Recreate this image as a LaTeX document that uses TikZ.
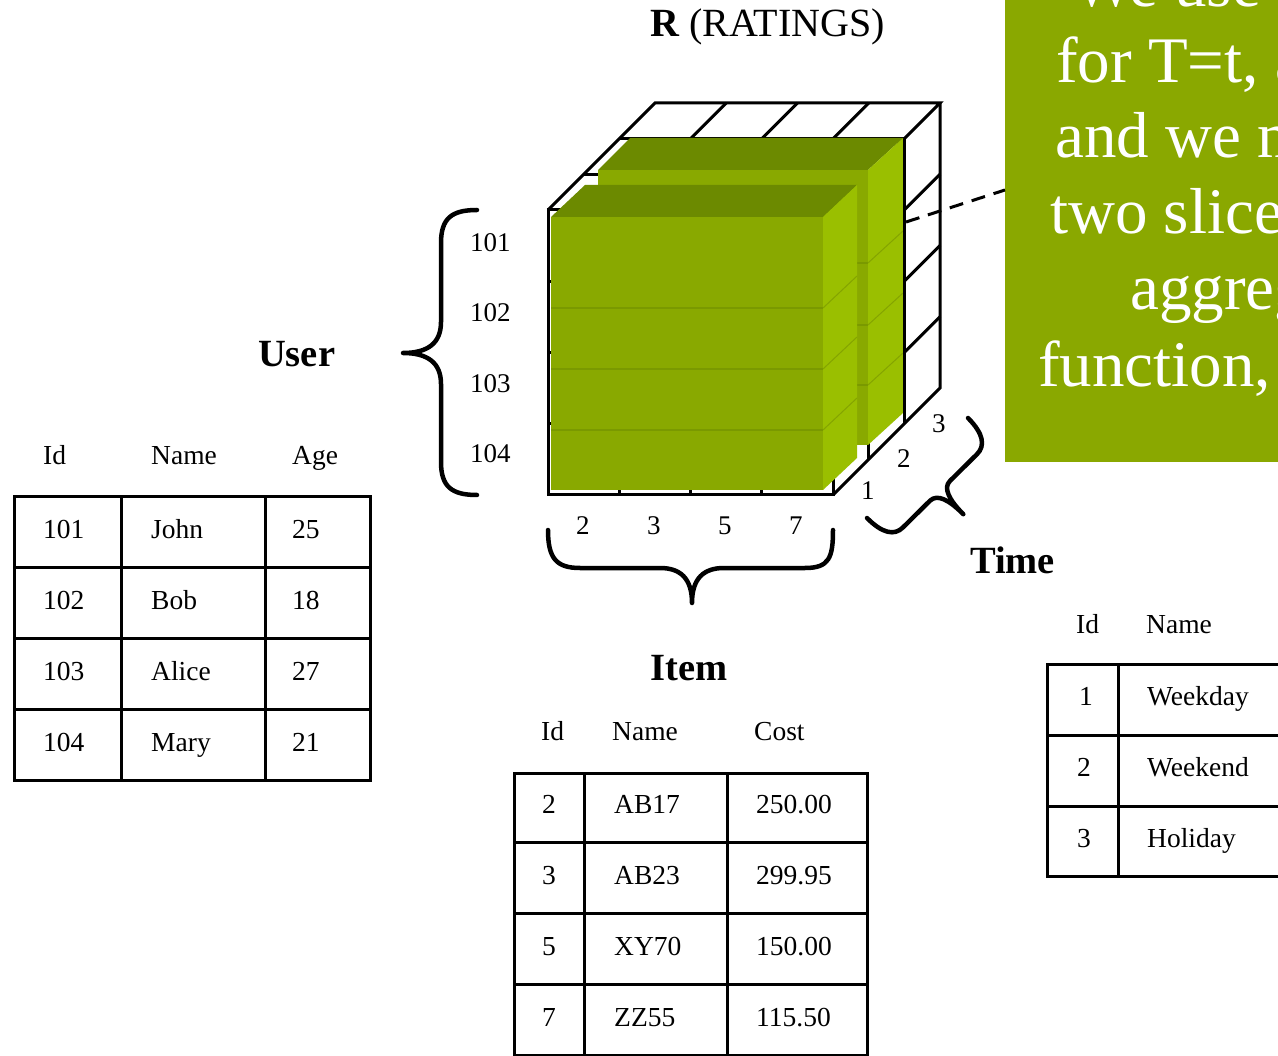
\documentclass[tikz,border=0pt]{standalone}
\usepackage{fontspec}
\setmainfont{Liberation Serif}
\definecolor{boxgreen}{RGB}{138,168,0}
\definecolor{slicefront}{RGB}{137,169,0}
\definecolor{slicetop}{RGB}{108,138,0}
\definecolor{sliceside}{RGB}{154,191,0}
\definecolor{sliceline}{RGB}{122,153,0}
\begin{document}
\begin{tikzpicture}[x=1pt,y=-1pt,
  cell/.style={anchor=base west,inner sep=0pt,font=\fontsize{27.5}{30}\selectfont},
  axlabel/.style={anchor=base west,inner sep=0pt,font=\fontsize{27}{30}\selectfont},
  title/.style={anchor=base west,inner sep=0pt,font=\fontsize{38.5}{42}\selectfont\bfseries},
  gridline/.style={line width=3pt},
  tbl/.style={line width=3pt},
  bracestyle/.style={line width=4.5pt,line cap=round,line join=round},
  callouttext/.style={anchor=base west,inner sep=0pt,text=white,font=\fontsize{65}{76}\selectfont}
]
\useasboundingbox (0,0) rectangle (1278,1056);
\clip (0,0) rectangle (1278,1056);
\fill[white] (0,0) rectangle (1278,1056);

% ---------- cube wireframe ----------
% front face
\draw[gridline] (548,210) rectangle (833,495);
\foreach \x in {619.25,690.5,761.75} \draw[gridline] (\x,210) -- (\x,495);
\foreach \y in {281.25,352.5,423.75} \draw[gridline] (548,\y) -- (833,\y);
% top face
\draw[gridline,line join=miter] (548,210) -- (655,103) -- (940,103) -- (833,210);
\foreach \x in {619.25,690.5,761.75} \draw[gridline] (\x,210) -- ({\x+107},103);
\draw[gridline] (583.67,174.33) -- (868.67,174.33);
\draw[gridline] (619.33,138.67) -- (904.33,138.67);
% right face
\draw[gridline,line join=miter] (833,495) -- (940,388) -- (940,103);
\foreach \y in {281.25,352.5,423.75} \draw[gridline] (833,\y) -- (940,{\y-107});
\draw[gridline] (868.67,174.33) -- (868.67,459.33);

% ---------- slices ----------
% back slice
\fill[slicefront] (598,170) rectangle (868,445);
\fill[slicetop] (598,170) -- (868,170) -- (903,138) -- (630,138) -- cycle;
\fill[sliceside] (868,170) -- (903,138) -- (903,413) -- (868,445) -- cycle;
\foreach \y in {263,325,385} {
  \draw[sliceline,line width=2.5pt] (598,\y) -- (868,\y);
  \draw[sliceline!70!sliceside,line width=1pt] (868,\y) -- (903,{\y-32});
}
% front slice
\fill[slicefront] (551,217) rectangle (823,490);
\fill[slicetop] (551,217) -- (823,217) -- (857,185) -- (585,185) -- cycle;
\fill[sliceside] (823,217) -- (857,185) -- (857,458) -- (823,490) -- cycle;
\foreach \y in {308,369,430} {
  \draw[sliceline,line width=2.5pt] (551,\y) -- (823,\y);
  \draw[sliceline!70!sliceside,line width=1pt] (823,\y) -- (857,{\y-32});
}
% cube edge at depth 2/3
\draw[gridline] (904.33,138.67) -- (904.33,423.67);

% ---------- axis labels ----------
\node[axlabel] (u101) at (470,252) {101};
\node[axlabel] (u102) at (470,322) {102};
\node[axlabel] (u103) at (470,393) {103};
\node[axlabel] (u104) at (470,463) {104};
\node[axlabel] (i2) at (576,535) {2};
\node[axlabel] (i3) at (647,535) {3};
\node[axlabel] (i5) at (718,535) {5};
\node[axlabel] (i7) at (789,535) {7};
\node[axlabel] (t1) at (861,500) {1};
\node[axlabel] (t2) at (897,468) {2};
\node[axlabel] (t3) at (932,433) {3};

% ---------- braces ----------
% User
\draw[bracestyle] (477,210) .. controls (452,210) and (441,218) .. (441,243)
  -- (441,322) .. controls (441,343) and (428,353) .. (403,353)
  .. controls (428,353) and (441,363) .. (441,384)
  -- (441,462) .. controls (441,487) and (452,495) .. (477,495);
% Item
\draw[bracestyle] (548,530) .. controls (548,558) and (556,568) .. (580,568)
  -- (660,568) .. controls (680,568) and (692,578) .. (692,603)
  .. controls (692,578) and (704,568) .. (724,568)
  -- (805,568) .. controls (829,568) and (833,558) .. (833,530);
% Time
\draw[bracestyle] (867,518) .. controls (882.5,533.6) and (894.5,535.9) .. (903,527.4)
  -- (930,500.7) .. controls (937.2,493.6) and (949.2,500) .. (963.3,514.2)
  .. controls (949.2,500) and (942.8,488) .. (950,480.9)
  -- (977,454.2) .. controls (985.5,445.7) and (983.5,433.6) .. (968,418);

% ---------- titles ----------
\node[anchor=base west,inner sep=0pt,font=\fontsize{40}{44}\selectfont] (rtitle) at (650,37) {\textbf{R} (RATINGS)};
\node[title] (usertitle) at (258,367) {User};
\node[title] (itemtitle) at (650,680) {Item};
\node[title] (timetitle) at (970,573) {Time};

% ---------- callout ----------
\node[fill=boxgreen,draw=none,inner sep=0pt,minimum width=400pt,minimum height=560pt,anchor=south west] (callout) at (1005,462) {};
\node[callouttext] (c1) at (1073,7) {We use t};
\node[callouttext] (c2) at (1056,83) {for T=t, a};
\node[callouttext] (c3) at (1055,158) {and we m};
\node[callouttext] (c4) at (1050,234) {two slice};
\node[callouttext] (c5) at (1130,310) {aggreg};
\node[callouttext] (c6) at (1038,387) {function,};
\coordinate (dstart) at (906,222);
\draw[line width=3pt,dash pattern=on 14pt off 9pt] (dstart) -- (callout.west |- 0,190);

% ---------- User table ----------
\node[cell] (uh1) at (43,465) {Id};
\node[cell] (uh2) at (151,465) {Name};
\node[cell] (uh3) at (292,465) {Age};
\draw[tbl] (14.5,496.5) rectangle (370.5,780.5);
\draw[tbl] (121,496.5) -- (121,780.5);
\draw[tbl] (265,496.5) -- (265,780.5);
\foreach \y in {567.5,638.5,709.5} \draw[tbl] (14.5,\y) -- (370.5,\y);
\node[cell] (u1a) at (43,538) {101};
\node[cell] (u1b) at (151,538) {John};
\node[cell] (u1c) at (292,538) {25};
\node[cell] (u2a) at (43,609) {102};
\node[cell] (u2b) at (151,609) {Bob};
\node[cell] (u2c) at (292,609) {18};
\node[cell] (u3a) at (43,680) {103};
\node[cell] (u3b) at (151,680) {Alice};
\node[cell] (u3c) at (292,680) {27};
\node[cell] (u4a) at (43,751) {104};
\node[cell] (u4b) at (151,751) {Mary};
\node[cell] (u4c) at (292,751) {21};

% ---------- Item table ----------
\node[cell] (ih1) at (541,740) {Id};
\node[cell] (ih2) at (612,740) {Name};
\node[cell] (ih3) at (754,740) {Cost};
\draw[tbl] (514,773.5) rectangle (867.5,1055);
\draw[tbl] (584,773.5) -- (584,1056);
\draw[tbl] (727,773.5) -- (727,1056);
\foreach \y in {842.5,913.5,984} \draw[tbl] (514,\y) -- (867.5,\y);
\node[cell] (i1a) at (542,813) {2};
\node[cell] (i1b) at (614,813) {AB17};
\node[cell] (i1c) at (756,813) {250.00};
\node[cell] (i2a) at (542,884) {3};
\node[cell] (i2b) at (614,884) {AB23};
\node[cell] (i2c) at (756,884) {299.95};
\node[cell] (i3a) at (542,955) {5};
\node[cell] (i3b) at (614,955) {XY70};
\node[cell] (i3c) at (756,955) {150.00};
\node[cell] (i4a) at (542,1026) {7};
\node[cell] (i4b) at (614,1026) {ZZ55};
\node[cell] (i4c) at (756,1026) {115.50};

% ---------- Time table ----------
\node[cell] (th1) at (1076,633) {Id};
\node[cell] (th2) at (1146,633) {Name};
\draw[tbl] (1300,664.5) -- (1047.5,664.5) -- (1047.5,876.5) -- (1300,876.5);
\draw[tbl] (1118,664.5) -- (1118,876.5);
\foreach \y in {735.5,806} \draw[tbl] (1047.5,\y) -- (1300,\y);
\node[cell] (t1a) at (1079,705) {1};
\node[cell] (t1b) at (1147,705) {Weekday};
\node[cell] (t2a) at (1077,776) {2};
\node[cell] (t2b) at (1147,776) {Weekend};
\node[cell] (t3a) at (1077,847) {3};
\node[cell] (t3b) at (1147,847) {Holiday};
\end{tikzpicture}
\end{document}
